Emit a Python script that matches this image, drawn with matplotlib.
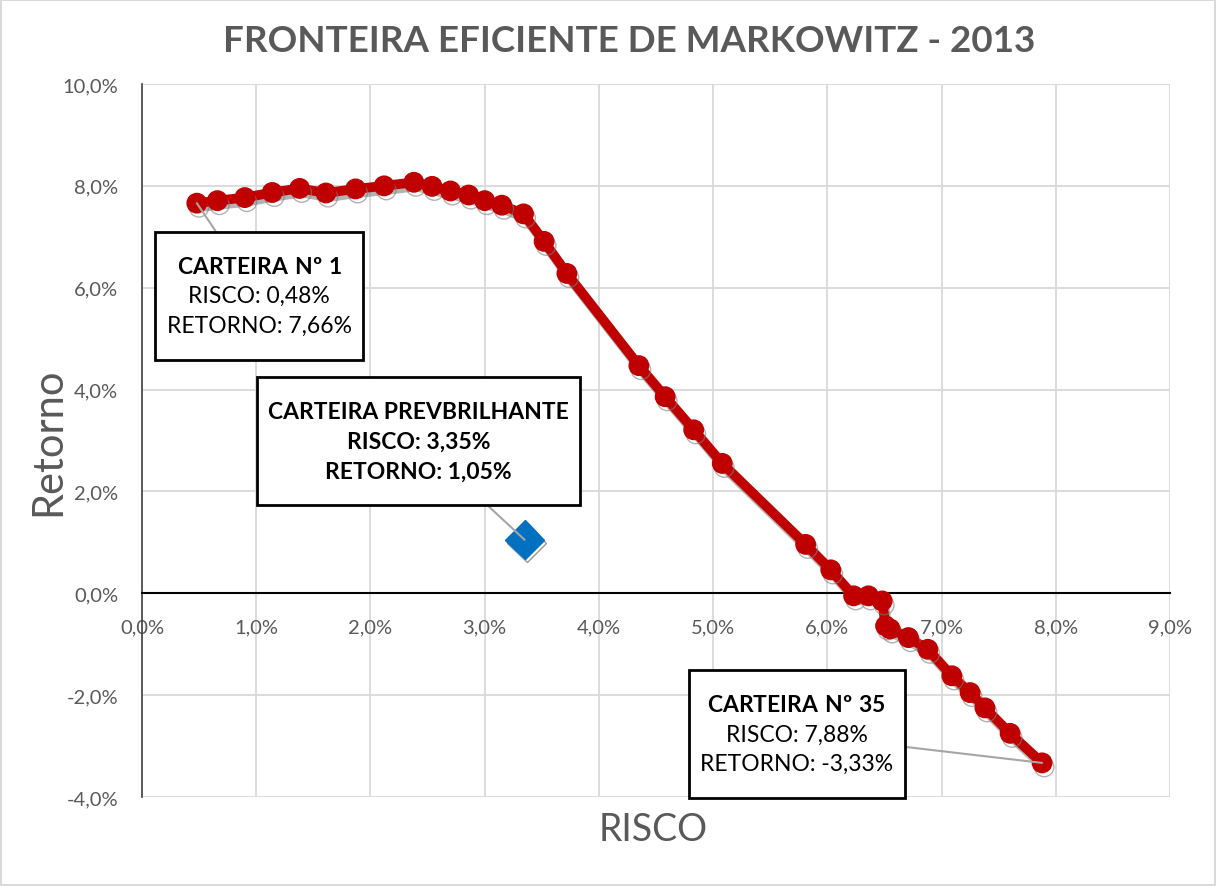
import numpy as np
from matplotlib import pyplot as plt
from matplotlib import patheffects as pe
from matplotlib.ticker import FuncFormatter
from matplotlib.patches import Rectangle
from matplotlib.path import Path

plt.rcParams['font.family'] = ['Lato', 'DejaVu Sans']
plt.rcParams['mathtext.fontset'] = 'custom'
plt.rcParams['mathtext.bf'] = 'Lato:bold'
plt.rcParams['mathtext.rm'] = 'Lato'

# fronteira eficiente (risco, retorno) em %
risco = [0.48, 0.66, 0.90, 1.14, 1.38, 1.61, 1.87, 2.12, 2.38, 2.54, 2.70, 2.86,
         3.00, 3.15, 3.34, 3.52, 3.72, 4.35, 4.58, 4.83, 5.08, 5.81, 6.03, 6.23,
         6.36, 6.48, 6.51, 6.55, 6.71, 6.88, 7.09, 7.25, 7.38, 7.60, 7.88]
retorno = [7.66, 7.71, 7.77, 7.87, 7.95, 7.86, 7.94, 8.00, 8.07, 7.99, 7.90, 7.82,
           7.71, 7.62, 7.45, 6.91, 6.28, 4.47, 3.86, 3.21, 2.55, 0.96, 0.46, -0.05,
           -0.05, -0.15, -0.64, -0.70, -0.87, -1.10, -1.62, -1.95, -2.25, -2.75, -3.33]

prev_risco = 3.35
prev_retorno = 1.05

xticks = np.arange(0, 10, 1)
yticks = np.arange(-4, 12, 2)

cinza = '#595959'
vermelho = '#C00000'


def caixa_excel(x0, y0, width, height, mutation_size):
    # caixa com margem maior em cima/baixo, como no excel
    px = 0.5 * mutation_size
    py = 1.05 * mutation_size
    x0, y0 = x0 - px, y0 - py
    x1, y1 = x0 + width + 2 * px, y0 + height + 2 * py
    return Path([(x0, y0), (x1, y0), (x1, y1), (x0, y1), (x0, y0)], closed=True)


fig = plt.figure(figsize=(12.16, 8.87), dpi=100)
ax = fig.add_axes([142/1216, 1-798/887, 1028/1216, 713/887])

sombra = [pe.SimpleLineShadow(offset=(1.5, -3), shadow_color='#7f7f7f', alpha=0.6), pe.Normal()]
ax.plot(risco, retorno, color=vermelho, lw=7, marker='o', ms=14, zorder=4,
        solid_capstyle='round', path_effects=sombra)
ax.plot([prev_risco], [prev_retorno], ls='none', marker='D', ms=20, color='#0070C0',
        zorder=5, path_effects=[pe.SimpleLineShadow(offset=(1.5, -2), alpha=0.4), pe.Normal()])

fmt = FuncFormatter(lambda v, p: ('%.1f%%' % v).replace('.', ','))
ax.set_xlim(0, 9)
ax.set_ylim(-4, 10)
ax.set_xticks(xticks)
ax.set_yticks(yticks)
ax.xaxis.set_major_formatter(fmt)
ax.yaxis.set_major_formatter(fmt)
ax.tick_params(length=0, labelsize=14.5, labelcolor=cinza)
ax.tick_params(axis='x', pad=18)
ax.tick_params(axis='y', pad=17)
ax.grid(True, color='#d9d9d9', lw=1.3)
ax.set_axisbelow(True)
for s in ['top', 'right']:
    ax.spines[s].set_visible(False)
ax.spines['bottom'].set_position(('data', 0))
ax.spines['bottom'].set_color('black')
ax.spines['bottom'].set_linewidth(1.5)
ax.spines['left'].set_color('#404040')
ax.spines['left'].set_linewidth(1.2)

fig.text(629/1216, 1-42/887, 'FRONTEIRA EFICIENTE DE MARKOWITZ - 2013',
         ha='center', va='center', fontsize=26.5, fontweight='bold', color=cinza)
fig.text(48/1216, 1-442/887, 'Retorno', rotation=90, ha='center', va='center',
         fontsize=30, color=cinza)
fig.text(653/1216, 1-830/887, 'RISCO', ha='center', va='center', fontsize=27, color=cinza)

caixa = dict(boxstyle=caixa_excel, fc='white', ec='black', lw=2)
seta = dict(arrowstyle='-', color='#a6a6a6', lw=1.5, shrinkA=0, shrinkB=0)

ax.annotate('$\\bf{CARTEIRA\\ Nº\\ 1}$\nRISCO: 0,48%\nRETORNO: 7,66%',
            xy=(risco[0], retorno[0]), xytext=(0.114, 0.703), textcoords='axes fraction',
            ha='center', va='center', fontsize=16.5, linespacing=1.5,
            bbox=caixa, arrowprops=seta, zorder=6)
ax.annotate('CARTEIRA PREVBRILHANTE\nRISCO: 3,35%\nRETORNO: 1,05%',
            xy=(prev_risco, prev_retorno), xytext=(0.269, 0.499), textcoords='axes fraction',
            ha='center', va='center', fontsize=16.5, fontweight='bold', linespacing=1.5,
            bbox=caixa, arrowprops=seta, zorder=6)
ax.annotate('$\\bf{CARTEIRA\\ Nº\\ 35}$\nRISCO: 7,88%\nRETORNO: -3,33%',
            xy=(risco[-1], retorno[-1]), xytext=(0.637, 0.088), textcoords='axes fraction',
            ha='center', va='center', fontsize=16.5, linespacing=1.5,
            bbox=caixa, arrowprops=seta, zorder=6)

fig.patches.append(Rectangle((0.001, 0.001), 0.998, 0.998, transform=fig.transFigure,
                             fill=False, ec='#d9d9d9', lw=1.5))

fig.savefig('out.png', dpi=100)
